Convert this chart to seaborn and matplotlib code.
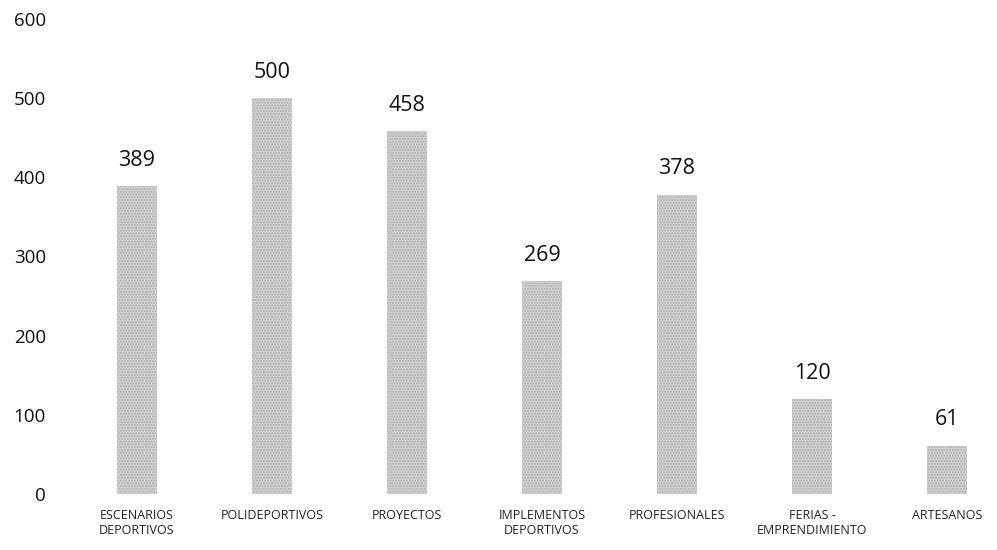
import matplotlib
matplotlib.use("Agg")
import matplotlib.pyplot as plt
import seaborn as sns
import pandas as pd

categories = ["ESCENARIOS\nDEPORTIVOS", "POLIDEPORTIVOS", "PROYECTOS",
              "IMPLEMENTOS\nDEPORTIVOS", "PROFESIONALES", "FERIAS -\nEMPRENDIMIENTO",
              "ARTESANOS"]
values = [389, 500, 458, 269, 378, 120, 61]
yticks = [0, 100, 200, 300, 400, 500, 600]

sns.set_theme(style="white")
plt.rcParams['font.family'] = ['Open Sans', 'DejaVu Sans']
plt.rcParams['hatch.color'] = '#666666'
plt.rcParams['hatch.linewidth'] = 1.0

df = pd.DataFrame({"cat": categories, "val": values})

fig = plt.figure(figsize=(9.97, 5.5), dpi=100)
ax = fig.add_axes([0.0697, 0.1018, 0.9303, 0.8637])
sns.barplot(data=df, x="cat", y="val", color="#d2d2d2", width=0.30,
            saturation=1, ax=ax)
for p in ax.patches:
    p.set_hatch('......')
    p.set_edgecolor('#b0b0b0')
    p.set_linewidth(0)

ax.bar_label(ax.containers[0], labels=[str(v) for v in values], padding=11,
             fontsize=15.5, color='#111111')
ax.set_ylim(0, 600)
ax.set_xlim(-0.5, 6.37)
ax.set_yticks(yticks)
ax.set_yticklabels([str(t) for t in yticks], fontsize=13.5, color='#111111')
ax.tick_params(axis='y', length=0, pad=17)
ax.tick_params(axis='x', length=0, pad=11, labelsize=9, labelcolor='#222222')
for lbl in ax.get_xticklabels():
    lbl.set_linespacing(1.15)
    lbl.set_verticalalignment('top')
ax.set_xlabel("")
ax.set_ylabel("")
for s in ax.spines.values():
    s.set_visible(False)

fig.savefig("out.png", dpi=100)
